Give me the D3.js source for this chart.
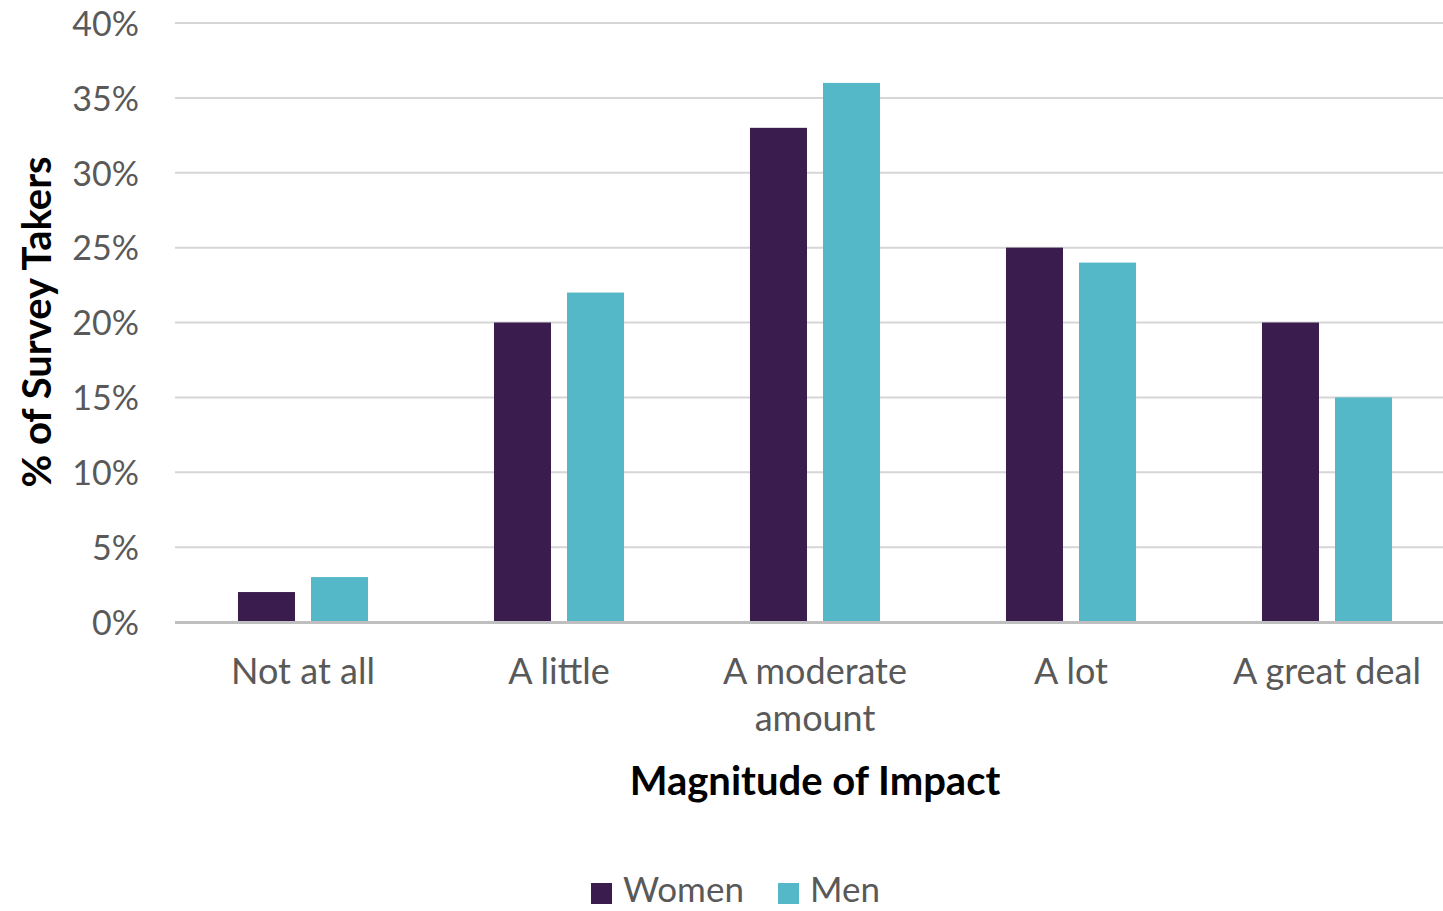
<!DOCTYPE html>
<html>
<head>
<meta charset="utf-8">
<script src="https://cdn.jsdelivr.net/npm/d3@7"></script>
<style>
  html, body { margin: 0; padding: 0; background: #fff; }
  svg { display: block; font-family: Lato, "Open Sans", sans-serif; }
</style>
</head>
<body>
<svg id="chart" width="1443" height="911"></svg>
<script>
// Survey responses: share of respondents by magnitude of impact
const categories = ["Not at all", "A little", "A moderate amount", "A lot", "A great deal"];
const categoryLines = [["Not at all"], ["A little"], ["A moderate", "amount"], ["A lot"], ["A great deal"]];
const series = ["Women", "Men"];
const women = [2, 20, 33, 25, 20];
const men = [3, 22, 36, 24, 15];
const yTicks = [0, 5, 10, 15, 20, 25, 30, 35, 40];
const colors = { Women: "#3a1c4e", Men: "#55b8c8" };

const rows = categories.map((c, i) => ({ category: c, lines: categoryLines[i], Women: women[i], Men: men[i] }));

const svg = d3.select("#chart");
const plot = { left: 175, right: 1455, top: 23, bottom: 622 };

const x = d3.scaleBand()
  .domain(categories)
  .range([plot.left, plot.right])
  .paddingInner(0.492)
  .paddingOuter(0.246);

const xs = d3.scaleBand()
  .domain(series)
  .range([0, x.bandwidth()])
  .paddingInner(0.219)
  .paddingOuter(0);

const y = d3.scaleLinear().domain([0, 40]).range([plot.bottom, plot.top]);

// horizontal gridlines
svg.append("g")
  .selectAll("line")
  .data(yTicks.filter(t => t > 0))
  .join("line")
  .attr("x1", plot.left)
  .attr("x2", plot.right)
  .attr("y1", d => y(d))
  .attr("y2", d => y(d))
  .attr("stroke", "#d6d6d6")
  .attr("stroke-width", 2);

// y axis labels
const yAxis = svg.append("g")
  .attr("transform", `translate(${plot.left},0)`)
  .call(d3.axisLeft(y).tickValues(yTicks).tickFormat(d => d + "%").tickSize(0).tickPadding(36));
yAxis.select(".domain").remove();
yAxis.selectAll("text")
  .attr("fill", "#595959")
  .style("font-size", "34px")
  .style("font-family", "Lato, sans-serif")
  .attr("dy", "0.36em");

// bars
const groups = svg.append("g")
  .selectAll("g")
  .data(rows)
  .join("g")
  .attr("transform", d => `translate(${x(d.category)},0)`);

groups.selectAll("rect")
  .data(d => series.map(s => ({ key: s, value: d[s] })))
  .join("rect")
  .attr("x", d => xs(d.key))
  .attr("width", xs.bandwidth())
  .attr("y", d => y(d.value))
  .attr("height", d => y(0) - y(d.value))
  .attr("fill", d => colors[d.key]);

// baseline
svg.append("line")
  .attr("x1", plot.left)
  .attr("x2", plot.right)
  .attr("y1", y(0) + 0.5)
  .attr("y2", y(0) + 0.5)
  .attr("stroke", "#bfbfbf")
  .attr("stroke-width", 3);

// category labels
const catLabels = svg.append("g")
  .selectAll("text")
  .data(rows)
  .join("text")
  .attr("x", d => x(d.category) + x.bandwidth() / 2)
  .attr("y", 684)
  .attr("text-anchor", "middle")
  .attr("fill", "#595959")
  .style("font-size", "36px");
catLabels.selectAll("tspan")
  .data(d => d.lines.map(l => ({ l, cx: x(d.category) + x.bandwidth() / 2 })))
  .join("tspan")
  .attr("x", d => d.cx)
  .attr("dy", (d, i) => i === 0 ? 0 : 47)
  .text(d => d.l);

// axis titles
svg.append("text")
  .attr("x", (plot.left + 1455) / 2)
  .attr("y", 795)
  .attr("text-anchor", "middle")
  .attr("font-weight", "bold")
  .attr("fill", "#000")
  .style("font-size", "40px")
  .text("Magnitude of Impact");

svg.append("text")
  .attr("transform", `translate(51,322) rotate(-90)`)
  .attr("text-anchor", "middle")
  .attr("font-weight", "bold")
  .attr("fill", "#000")
  .style("font-size", "40px")
  .text("% of Survey Takers");

// legend
const legend = svg.append("g").attr("transform", "translate(591,883)");
const legendX = { Women: 0, Men: 187 };
const li = legend.selectAll("g")
  .data(series)
  .join("g")
  .attr("transform", d => `translate(${legendX[d]},0)`);
li.append("rect")
  .attr("width", 21)
  .attr("height", 21)
  .attr("fill", d => colors[d]);
li.append("text")
  .attr("x", 32)
  .attr("y", 19)
  .attr("fill", "#595959")
  .style("font-size", "35px")
  .text(d => d);
</script>
</body>
</html>
